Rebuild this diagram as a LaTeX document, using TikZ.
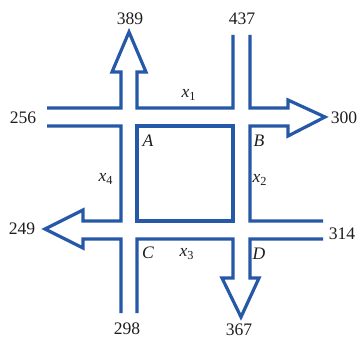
\documentclass[tikz,border=0pt]{standalone}
\usepackage{fontspec}
\setmainfont{Liberation Serif}
\usepackage{tikz}
\usetikzlibrary{positioning,calc}
\definecolor{roadblue}{RGB}{38, 88, 168}
\definecolor{textdark}{RGB}{30, 30, 30}

\begin{document}
\begin{tikzpicture}[x=0.25mm, y=-0.25mm,
    road/.style={draw=roadblue, line width=0.8mm, line join=miter},
    flow/.style={text=textdark, font=\fontsize{12.5}{14}\selectfont},
    tag/.style={text=textdark, font=\fontsize{12.5}{14}\selectfont\itshape}]
    \useasboundingbox (0,0) rectangle (359,339);
    % road edges
    \draw[road] (47,108) -- (121,108) -- (121,72) -- (112,72) -- (129,32) -- (146,72) -- (137,72) -- (137,108) -- (233,108) -- (233,35);
    \draw[road] (250,35) -- (250,108) -- (288,108) -- (288,100) -- (325,117) -- (288,136) -- (288,126) -- (250,126) -- (250,221) -- (323,221);
    \draw[road] (323,239) -- (250,239) -- (250,278) -- (259,278) -- (241,317) -- (222,278) -- (233,278) -- (233,239) -- (137,239) -- (137,313);
    \draw[road] (121,313) -- (121,239) -- (83,239) -- (83,248) -- (45,229) -- (83,210) -- (83,221) -- (121,221) -- (121,126) -- (47,126);
    \draw[road] (137,126) rectangle (233,221);
    % traffic volumes
    \node[flow] (out389) at (130,19) {389};
    \node[flow] (in437) at (242,19) {437};
    \node[flow] (in256) at (23,118) {256};
    \node[flow] (out300) at (344,118) {300};
    \node[flow] (out249) at (22,229) {249};
    \node[flow] (in314) at (342,234) {314};
    \node[flow] (in298) at (127,329) {298};
    \node[flow] (out367) at (239,330) {367};
    % intersections and unknowns
    \node[tag] (A) at (148,141) {A};
    \node[tag] (B) at (259,141) {B};
    \node[tag] (C) at (148,253) {C};
    \node[tag] (D) at (259,254) {D};
    \node[tag] (x1) at (189,95) {x\textsubscript{\upshape 1}};
    \node[tag] (x2) at (260,180) {x\textsubscript{\upshape 2}};
    \node[tag] (x3) at (187,254) {x\textsubscript{\upshape 3}};
    \node[tag] (x4) at (106,179) {x\textsubscript{\upshape 4}};
\end{tikzpicture}
\end{document}
